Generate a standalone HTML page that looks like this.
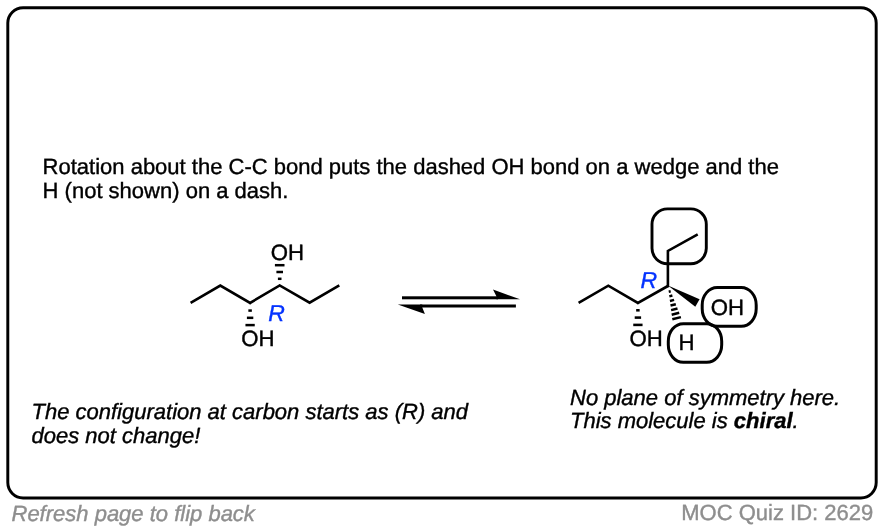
<!DOCTYPE html>
<html><head><meta charset="utf-8"><title>Quiz</title>
<style>html,body{margin:0;padding:0;background:#fff;}body{width:884px;height:532px;position:relative;overflow:hidden;font-family:"Liberation Sans",sans-serif;}</style></head>
<body>
<svg width="884" height="532" viewBox="0 0 884 532" style="position:absolute;left:0;top:0;will-change:transform">
<rect x="0" y="0" width="884" height="532" fill="#fff"/>
<rect x="7.8" y="7.7" width="868.4" height="490.2" rx="15.3" ry="15.3" fill="none" stroke="#000" stroke-width="2.95"/>
<g fill="none" stroke="#000" stroke-width="2.6" stroke-linejoin="miter" stroke-linecap="butt">
<polyline points="190.6,302.9 220.3,285.6 250.1,302.9 279.7,285.4 309.6,302.7 339.3,285.4"/>
<polyline points="578.6,302.9 608.3,285.7 637.9,302.9 667.9,286"/>
<polyline points="667.9,287.2 667.9,250.9 697.7,234.4"/>
<rect x="652.0" y="208.85" width="54.3" height="54.9" rx="15.5" ry="15.5" stroke-width="2.9"/>
<rect x="702.2" y="287.5" width="54.0" height="38.8" rx="15" ry="17.5" stroke-width="3"/>
<rect x="668.3" y="323.7" width="53.4" height="38.6" rx="15" ry="17.5" stroke-width="3"/>
</g>
<g fill="#000" stroke="none">
<rect x="402.0" y="296.3" width="96" height="3.0"/>
<polygon points="493.0,289.6 520.0,299.3 496.4,299.3 496.4,296.3"/>
<rect x="420" y="304.5" width="95.9" height="3.0"/>
<polygon points="397.8,304.5 422.3,304.5 422.3,307.5 424.9,314.0"/>
<polygon points="667.9,285.6 699.6,299.3 695.3,306.8"/>
</g>
<g stroke="#000" fill="none">
<line x1="279.40" y1="285.60" x2="280.00" y2="285.60" stroke-width="2.5"/>
<line x1="277.90" y1="278.80" x2="281.50" y2="278.80" stroke-width="2.5"/>
<line x1="276.40" y1="272.00" x2="283.00" y2="272.00" stroke-width="2.5"/>
<line x1="274.90" y1="265.20" x2="284.50" y2="265.20" stroke-width="2.5"/>
<line x1="250.40" y1="303.30" x2="249.80" y2="303.30" stroke-width="2.5"/>
<line x1="251.85" y1="310.57" x2="248.35" y2="310.57" stroke-width="2.5"/>
<line x1="253.30" y1="317.83" x2="246.90" y2="317.83" stroke-width="2.5"/>
<line x1="254.75" y1="325.10" x2="245.45" y2="325.10" stroke-width="2.5"/>
<line x1="638.20" y1="303.00" x2="637.60" y2="303.00" stroke-width="2.55"/>
<line x1="639.65" y1="310.30" x2="636.15" y2="310.30" stroke-width="2.55"/>
<line x1="641.10" y1="317.60" x2="634.70" y2="317.60" stroke-width="2.55"/>
<line x1="642.55" y1="324.90" x2="633.25" y2="324.90" stroke-width="2.55"/>
<line x1="670.67" y1="291.25" x2="668.73" y2="291.75" stroke-width="2.5"/>
<line x1="672.37" y1="295.56" x2="669.33" y2="296.34" stroke-width="2.5"/>
<line x1="674.08" y1="299.86" x2="669.92" y2="300.94" stroke-width="2.5"/>
<line x1="675.79" y1="304.17" x2="670.51" y2="305.53" stroke-width="2.5"/>
<line x1="677.50" y1="308.47" x2="671.10" y2="310.13" stroke-width="2.5"/>
<line x1="679.20" y1="312.78" x2="671.70" y2="314.72" stroke-width="2.5"/>
<line x1="680.91" y1="317.09" x2="672.29" y2="319.31" stroke-width="2.5"/>
</g>
<g font-family="Liberation Sans, sans-serif" text-rendering="geometricPrecision" font-size="22" fill="#000" stroke="#000" stroke-width="0.38">
<text x="42.6" y="173.8">Rotation about the C-C bond puts the dashed OH bond on a wedge and the</text>
<text x="42.6" y="197.6">H (not shown) on a dash.</text>
<g font-style="italic">
<text x="31.5" y="418.8">The configuration at carbon starts as (R) and</text>
<text x="31.5" y="443.0">does not change!</text>
<text x="570" y="404.5">No plane of symmetry here.</text>
<text x="570" y="427.8">This molecule is <tspan font-weight="bold">chiral</tspan>.</text>
</g>
<g fill="#8e8e8e" stroke="#8e8e8e">
<text x="11.5" y="521.2" font-style="italic">Refresh page to flip back</text>
<text x="681.3" y="519.8">MOC Quiz ID: 2629</text>
</g>
</g>
<g font-family="Liberation Sans, sans-serif" text-rendering="geometricPrecision" font-size="22.2" fill="#000" stroke="#000" stroke-width="0.38">
<text transform="translate(270.7,259.7) scale(1.0,1)">OH</text>
<text transform="translate(241.3,345.6) scale(1.0,1)">OH</text>
<text transform="translate(629.5,345.8) scale(1.0,1)">OH</text>
<text transform="translate(710.7,314.8) scale(1.0,1)">OH</text>
<text transform="translate(678.5,350.4) scale(1.0,1)">H</text>
</g>
<g font-family="Liberation Sans, sans-serif" text-rendering="geometricPrecision" font-size="23" font-style="italic" fill="#0433ff" stroke="#0433ff" stroke-width="0.38">
<text x="268.3" y="320.8">R</text>
<text x="640.6" y="287.7">R</text>
</g>
</svg>
</body></html>
